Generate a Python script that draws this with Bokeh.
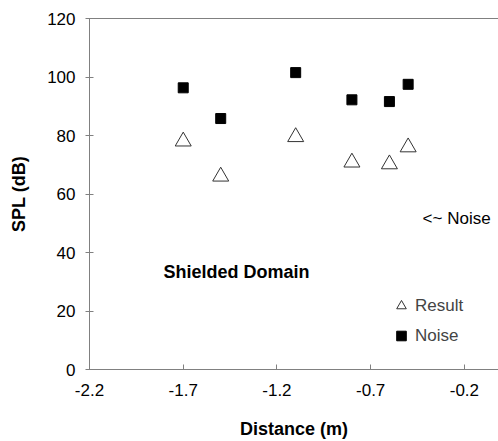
from bokeh.plotting import figure
from bokeh.models import Range1d, FixedTicker, Label, Legend, LegendItem, LinearAxis
from bokeh.embed import file_html
from bokeh.resources import INLINE

# data
distance = [-1.7, -1.5, -1.1, -0.8, -0.6, -0.5]
result_spl = [78.0, 66.0, 79.5, 70.8, 70.2, 76.0]
noise_spl = [96.3, 85.8, 101.5, 92.2, 91.6, 97.5]
x_ticks = [-2.2, -1.7, -1.2, -0.7, -0.2]
x_tick_labels = ["-2.2", "-1.7", "-1.2", "-0.7", "-0.2"]
y_ticks = [0, 20, 40, 60, 80, 100, 120]

FONT = "Liberation Sans"
AXIS_GREY = "#808080"

p = figure(width=498, height=441, output_backend="svg", toolbar_location=None,
           x_range=Range1d(-2.2, -0.018), y_range=Range1d(0, 120),
           min_border_left=89, min_border_right=0, min_border_top=18, min_border_bottom=72)
p.background_fill_color = "white"
p.border_fill_color = "white"
p.outline_line_color = None
p.xgrid.visible = False
p.ygrid.visible = False

# x axis
xa = p.below[0]
xa.ticker = FixedTicker(ticks=x_ticks)
xa.major_label_overrides = {t: l for t, l in zip(x_ticks, x_tick_labels)}
xa.axis_label = "Distance (m)"
xa.major_tick_in = 5
xa.major_tick_out = 0
xa.minor_tick_line_color = None
xa.major_label_standoff = 14
xa.axis_label_standoff = 20

# y axis
ya = p.left[0]
ya.ticker = FixedTicker(ticks=y_ticks)
ya.axis_label = "SPL (dB)"
ya.major_tick_in = 4
ya.major_tick_out = 4
ya.minor_tick_line_color = None
ya.major_label_standoff = 10
ya.axis_label_standoff = 15

for ax in (xa, ya):
    ax.axis_line_color = AXIS_GREY
    ax.major_tick_line_color = AXIS_GREY
    ax.major_label_text_font = FONT
    ax.major_label_text_font_size = "17px"
    ax.major_label_text_color = "black"
    ax.axis_label_text_font = FONT
    ax.axis_label_text_font_size = "18px"
    ax.axis_label_text_font_style = "bold"
    ax.axis_label_text_color = "black"

# plain top frame line (no ticks, no labels)
top = LinearAxis(ticker=FixedTicker(ticks=[]), axis_line_color=AXIS_GREY,
                 major_tick_line_color=None, minor_tick_line_color=None)
p.add_layout(top, "above")

r_result = p.scatter(distance, result_spl, marker="triangle", size=16,
                     fill_color="white", line_color="#333333", line_width=1)
r_noise = p.scatter(distance, noise_spl, marker="square", size=10,
                    fill_color="black", line_color="black")

legend = Legend(items=[LegendItem(label="Result", renderers=[r_result]),
                       LegendItem(label="Noise", renderers=[r_noise])],
                location=(300, 20), orientation="vertical",
                glyph_width=24, glyph_height=27, spacing=3, padding=10,
                label_standoff=2, margin=0,
                label_text_font=FONT, label_text_font_size="17px",
                border_line_color=None, background_fill_alpha=0)
p.add_layout(legend)

p.add_layout(Label(x=-1.805, y=33.5, text="Shielded Domain", text_font=FONT,
                   text_font_size="18px", text_font_style="bold",
                   text_baseline="middle", text_align="left", text_color="black"))
p.add_layout(Label(x=-0.423, y=51.6, text="<~ Noise", text_font=FONT,
                   text_font_size="17px", text_baseline="middle",
                   text_align="left", text_color="black"))

open("out.html", "w").write(file_html(p, INLINE))
